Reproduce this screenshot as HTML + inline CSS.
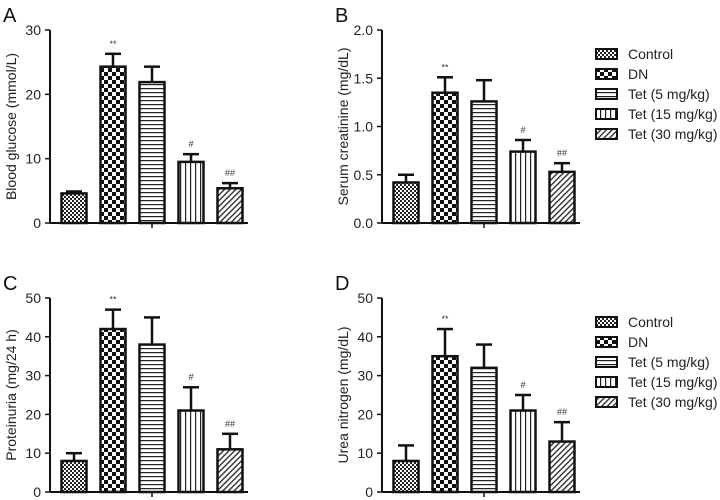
<!DOCTYPE html>
<html><head><meta charset="utf-8"><style>
body{margin:0;background:#fff;}
svg{display:block;font-family:"Liberation Sans",sans-serif;}
</style></head><body>
<svg id="c" width="720" height="500">
<defs>
<pattern id="p0" width="4" height="4" patternUnits="userSpaceOnUse"><rect width="4" height="4" fill="#fff"/><rect width="2" height="2" fill="#222"/><rect x="2" y="2" width="2" height="2" fill="#222"/></pattern>
<pattern id="p1" width="8" height="8" patternUnits="userSpaceOnUse"><rect width="8" height="8" fill="#fff"/><rect width="4" height="4" fill="#111"/><rect x="4" y="4" width="4" height="4" fill="#111"/></pattern>
<pattern id="p2" width="4" height="4" patternUnits="userSpaceOnUse"><rect width="4" height="4" fill="#fff"/><rect y="0" width="4" height="1.2" fill="#222"/></pattern>
<pattern id="p3" width="5" height="5" patternUnits="userSpaceOnUse"><rect width="5" height="5" fill="#fff"/><rect x="0" width="1.2" height="5" fill="#222"/></pattern>
<pattern id="p4" width="4" height="4" patternUnits="userSpaceOnUse" patternTransform="rotate(45)"><rect width="4" height="4" fill="#fff"/><rect width="1.3" height="4" fill="#222"/></pattern>
</defs>
</svg>
<script>
const groups=["Control","DN","Tet (5 mg/kg)","Tet (15 mg/kg)","Tet (30 mg/kg)"];
const glucose=[4.6,24.3,21.9,9.5,5.4];
const glucoseErr=[0.3,2.0,2.4,1.2,0.8];
const creatinine=[0.42,1.35,1.26,0.74,0.53];
const creatinineErr=[0.08,0.16,0.22,0.12,0.09];
const proteinuria=[8,42,38,21,11];
const proteinuriaErr=[2,5,7,6,4];
const urea=[8,35,32,21,13];
const ureaErr=[4,7,6,4,5];
const marks=["","**","","#","##"];
const ticksA=[0,10,20,30];
const ticksB=[0,0.5,1.0,1.5,2.0];
const ticksC=[0,10,20,30,40,50];
const svg=document.getElementById('c');
const NS="http://www.w3.org/2000/svg";
function el(t,a,p){const e=document.createElementNS(NS,t);for(const k in a)e.setAttribute(k,a[k]);(p||svg).appendChild(e);return e;}
function panel(id,letter,x0,yTop,yBot,maxV,ticks,fmt,vals,errs,title){
  const g=el('g',{});
  
  
  const ys=v=>yBot-(v/maxV)*(yBot-yTop);
  const xs=i=>x0+24+i*39;
  const L=el('text',{x:x0-47,y:yTop-8,'font-size':20,fill:'#111'},g);L.textContent=letter;
  
  el('line',{x1:x0,y1:yTop,x2:x0,y2:yBot,stroke:'#111','stroke-width':2},g);
  el('line',{x1:x0,y1:yBot,x2:x0+198,y2:yBot,stroke:'#111','stroke-width':2},g);
  el('line',{x1:x0+102,y1:yBot,x2:x0+102,y2:yBot+5,stroke:'#111','stroke-width':1.5},g);
  ticks.forEach(t=>{const y=ys(t);
    el('line',{x1:x0-5,y1:y,x2:x0,y2:y,stroke:'#111','stroke-width':1.5},g);
    const tx=el('text',{x:x0-9,y:y+5,'font-size':14,'text-anchor':'end',fill:'#222'},g);tx.textContent=fmt(t);
    });
  const yt=el('text',{transform:`translate(${x0-34},${(yTop+yBot)/2}) rotate(-90)`,'font-size':14,'text-anchor':'middle',fill:'#222'},g);
  yt.textContent=title;
  vals.forEach((v,i)=>{const cx=xs(i),y=ys(v),ye=ys(v+errs[i]);
    el('line',{x1:cx,y1:y,x2:cx,y2:ye,stroke:'#111','stroke-width':2.5},g);
    el('line',{x1:cx-8,y1:ye,x2:cx+8,y2:ye,stroke:'#111','stroke-width':2.5},g);
    const b=el('rect',{x:cx-12.5,y:y,width:25,height:yBot-y,fill:`url(#p${i})`,stroke:'#111','stroke-width':2.5},g);
    
    if(marks[i]){const m=el('text',{x:cx,y:ye-7,'font-size':9,'text-anchor':'middle',fill:'#333'},g);m.textContent=marks[i];
      }
  });
}
function legend(y0){
  const g=el('g',{});
  
  groups.forEach((n,i)=>{const y=y0+i*20;
    const it=el('g',{},g);
    
    el('rect',{x:596,y:y-5,width:21,height:10,fill:`url(#p${i})`,stroke:'#111','stroke-width':2},it);
    const t=el('text',{x:628,y:y+5,'font-size':14,fill:'#222'},it);t.textContent=n;});
}
const f0=t=>String(t), f1=t=>t.toFixed(1);
panel('a','A',50,30,223,30,ticksA,f0,glucose,glucoseErr,'Blood glucose (mmol/L)');
panel('b','B',382,30,223,2,ticksB,f1,creatinine,creatinineErr,'Serum creatinine (mg/dL)');
panel('c','C',50,298,492,50,ticksC,f0,proteinuria,proteinuriaErr,'Proteinuria (mg/24 h)');
panel('d','D',382,298,492,50,ticksC,f0,urea,ureaErr,'Urea nitrogen (mg/dL)');
legend(54);legend(322);
</script>
</body></html>
